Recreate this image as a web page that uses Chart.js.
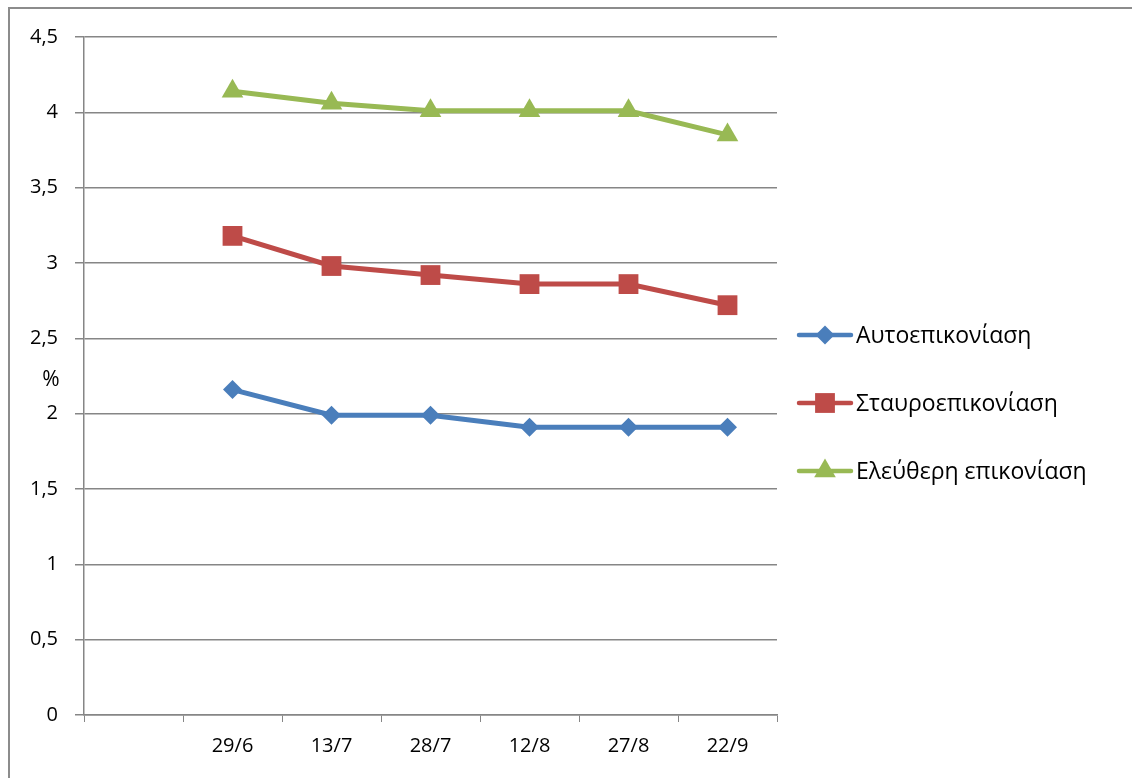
<!DOCTYPE html>
<html>
<head>
<meta charset="utf-8">
<script src="https://cdn.jsdelivr.net/npm/chart.js@4.4.1/dist/chart.umd.min.js"></script>
<style>
  html, body { margin: 0; padding: 0; background: #fff; }
  #wrap { position: relative; width: 1132px; height: 778px; overflow: hidden; }
  #frame { position: absolute; left: 8px; top: 7px; width: 1200px; height: 900px;
           border-left: 2px solid #8c8c8c; border-top: 2px solid #8c8c8c; }
  canvas { position: absolute; left: 0; top: 0; }
</style>
</head>
<body>
<div id="wrap">
  <div id="frame"></div>
  <canvas id="myChart" width="1132" height="778"></canvas>
</div>
<script>
// first slot is left empty on the axis
const dates = ["", "29/6", "13/7", "28/7", "12/8", "27/8", "22/9"];
const selfComm = [null, 2.16, 1.99, 1.99, 1.91, 1.91, 1.91];
const crossComm = [null, 3.18, 2.98, 2.92, 2.86, 2.86, 2.72];
const freeComm = [null, 4.14, 4.06, 4.01, 4.01, 4.01, 3.85];

const FONT = "'Open Sans', 'DejaVu Sans', sans-serif";
const GRID = "#868686";

// legend on the right: short line with the marker in the middle
const sideLegend = {
  id: "sideLegend",
  afterDraw(chart) {
    const ctx = chart.ctx;
    const rows = [335, 403, 471];
    ctx.save();
    chart.data.datasets.forEach((ds, i) => {
      const y = rows[i];
      ctx.strokeStyle = ds.borderColor;
      ctx.lineWidth = 4.5;
      ctx.lineCap = "round";
      ctx.beginPath();
      ctx.moveTo(799, y);
      ctx.lineTo(851, y);
      ctx.stroke();
      ctx.fillStyle = ds.backgroundColor;
      Chart.helpers.drawPoint(ctx, {
        pointStyle: ds.pointStyle,
        radius: ds.pointRadius,
        borderWidth: 0
      }, 825, y);
      ctx.fillStyle = "#000";
      ctx.font = "23px " + FONT;
      ctx.textBaseline = "middle";
      ctx.textAlign = "left";
      ctx.fillText(ds.label, 856, y + 1);
    });
    // unit label beside the value axis
    const area = chart.chartArea;
    ctx.font = "21px " + FONT;
    ctx.textAlign = "center";
    ctx.fillText("%", 51, (area.top + area.bottom) / 2 + 4);
    ctx.restore();
  }
};

const ctx = document.getElementById("myChart").getContext("2d");
new Chart(ctx, {
  type: "line",
  data: {
    labels: dates,
    datasets: [
      {
        label: "Αυτοεπικονίαση",
        data: selfComm,
        borderColor: "#4A7EBB",
        backgroundColor: "#4A7EBB",
        pointStyle: "rectRot",
        pointRadius: 9.5,
        pointBorderWidth: 0,
        borderWidth: 5
      },
      {
        label: "Σταυροεπικονίαση",
        data: crossComm,
        borderColor: "#BE4B48",
        backgroundColor: "#BE4B48",
        pointStyle: "rect",
        pointRadius: 14,
        pointBorderWidth: 0,
        borderWidth: 5
      },
      {
        label: "Ελεύθερη επικονίαση",
        data: freeComm,
        borderColor: "#98B954",
        backgroundColor: "#98B954",
        pointStyle: "triangle",
        pointRadius: 12.5,
        pointBorderWidth: 0,
        borderWidth: 5
      }
    ]
  },
  options: {
    responsive: false,
    animation: false,
    layout: { padding: { left: 0, top: 37, right: 355, bottom: 0 } },
    plugins: {
      legend: { display: false },
      tooltip: { enabled: false }
    },
    elements: { line: { tension: 0 } },
    scales: {
      x: {
        offset: true,
        grid: {
          offset: true,
          drawOnChartArea: false,
          drawTicks: true,
          tickLength: 7,
          color: GRID
        },
        border: { color: GRID, width: 1.5 },
        ticks: {
          color: "#000",
          font: { family: FONT, size: 20 },
          padding: 12,
          maxRotation: 0,
          autoSkip: false
        },
        afterFit(scale) { scale.height = 63; }
      },
      y: {
        min: 0,
        max: 4.5,
        grid: { color: GRID, lineWidth: 1.5, tickLength: 9 },
        border: { color: GRID, width: 1.5 },
        ticks: {
          stepSize: 0.5,
          color: "#000",
          font: { family: FONT, size: 20 },
          padding: 17,
          callback: v => String(v).replace(".", ",")
        },
        afterFit(scale) { scale.width = 84; }
      }
    }
  },
  plugins: [sideLegend]
});
</script>
</body>
</html>
